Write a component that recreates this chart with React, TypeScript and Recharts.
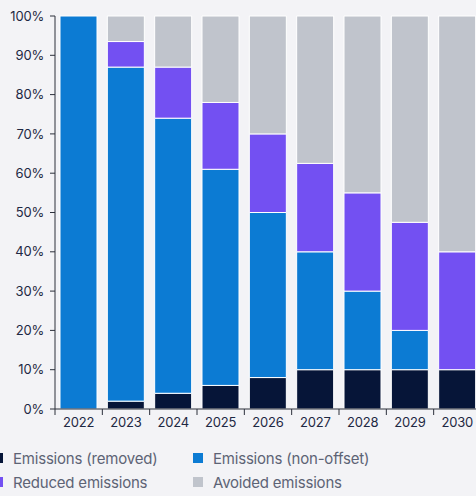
import { BarChart, Bar, XAxis, YAxis, Legend } from "recharts";

const years = ["2022", "2023", "2024", "2025", "2026", "2027", "2028", "2029", "2030"];
const removed = [0, 2, 4, 6, 8, 10, 10, 10, 10];
const nonOffset = [100, 85, 70, 55, 42, 30, 20, 10, 0];
const reduced = [0, 6.5, 13, 17, 20, 22.5, 25, 27.5, 30];
const avoided = [0, 6.5, 13, 22, 30, 37.5, 45, 52.5, 60];
const yTicks = [0, 10, 20, 30, 40, 50, 60, 70, 80, 90, 100];

const SERIES = [
  { key: "removed", name: "Emissions (removed)", color: "#061538" },
  { key: "nonOffset", name: "Emissions (non-offset)", color: "#0c7bd3" },
  { key: "reduced", name: "Reduced emissions", color: "#7350f2" },
  { key: "avoided", name: "Avoided emissions", color: "#c0c4cc" },
];

const data = years.map((year, i) => ({
  year,
  removed: removed[i],
  nonOffset: nonOffset[i],
  reduced: reduced[i],
  avoided: avoided[i],
}));

const FONT = "Inter, 'Noto Sans', sans-serif";
const AXIS = "#2c303b";

function YearTick(props: any) {
  const { x, y, payload, width, visibleTicksCount } = props;
  const band = width && visibleTicksCount ? width / visibleTicksCount : 47.3;
  const y0 = y - 9;
  return (
    <g>
      <line x1={x - band / 2} y1={y0} x2={x - band / 2} y2={y0 + 6} stroke={AXIS} strokeWidth={1} />
      <text x={x} y={y} dy="0.71em" textAnchor="middle" fill="#1e2843" fontSize={13} fontFamily={FONT} letterSpacing={-0.2}>
        {payload.value}
      </text>
    </g>
  );
}

function renderLegend() {
  return (
    <div style={{ position: "relative", height: 57, fontFamily: FONT, fontSize: 15, color: "#5d6375", letterSpacing: -0.2 }}>
      {SERIES.map((s, i) => (
        <div
          key={s.key}
          style={{
            position: "absolute",
            left: i % 2 === 0 ? -7 : 193,
            top: 8 + Math.floor(i / 2) * 24,
            height: 22,
            display: "flex",
            alignItems: "center",
            gap: 10,
            whiteSpace: "nowrap",
          }}
        >
          <span style={{ width: 10, height: 10, background: s.color, display: "inline-block" }} />
          <span>{s.name}</span>
        </div>
      ))}
    </div>
  );
}

export default function App() {
  return (
    <div style={{ position: "absolute", left: 0, top: 0, width: 476, height: 496, overflow: "hidden", background: "#f3f3f6" }}>
      <BarChart width={490} height={496} data={data} margin={{ top: 16, right: 9, left: 0, bottom: 0 }} barCategoryGap={5}>
        <YAxis
          width={55}
          domain={[0, 100]}
          ticks={yTicks}
          interval={0}
          tickFormatter={(v) => `${v}%`}
          tickSize={5}
          tickMargin={6}
          stroke={AXIS}
          tick={{ fill: "#1e2843", fontSize: 13, fontFamily: FONT, letterSpacing: -0.2 }}
        />
        <XAxis dataKey="year" height={30} tickLine={false} tickSize={6} tickMargin={3} stroke={AXIS} tick={<YearTick />} interval={0} />
        {SERIES.map((s) => (
          <Bar key={s.key} dataKey={s.key} name={s.name} stackId="a" fill={s.color} stroke="#ffffff" strokeWidth={1} isAnimationActive={false} />
        ))}
        <Legend verticalAlign="bottom" content={renderLegend} wrapperStyle={{ left: 0, width: 490 }} />
      </BarChart>
    </div>
  );
}
